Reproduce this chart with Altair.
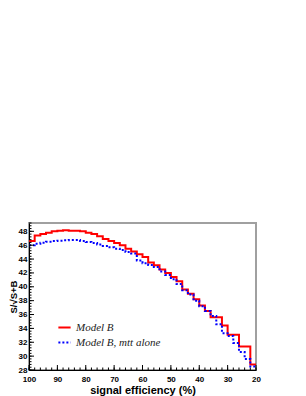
import altair as alt
import pandas as pd

# Bin high edges (x, signal efficiency %) with the value of each bin; last point closes the histogram at x=20
red_x = [100, 98, 96, 94, 92, 90, 88, 86, 84, 82, 80, 78, 76, 74, 72, 70, 68, 66, 64, 62,
         60, 58, 56, 54, 52, 50, 48, 46, 44, 42, 40, 38, 36, 32, 30, 26, 22, 20]
red_y = [46.6, 47.4, 47.6, 47.8, 48.0, 48.1, 48.15, 48.1, 48.1, 48.0, 47.8, 47.6, 47.3, 46.9,
         46.6, 46.3, 46.0, 45.5, 45.1, 44.7, 44.3, 43.5, 43.1, 42.5, 42.0, 41.4, 40.8, 39.6,
         39.0, 38.2, 37.3, 36.5, 35.6, 34.4, 33.1, 31.4, 28.8, 28.8]

blue_x = [100, 98, 96, 94, 92, 90, 88, 86, 84, 82, 80, 78, 76, 74, 72, 70, 68, 66, 64, 62,
          60, 58, 56, 54, 52, 50, 48, 46, 44, 42, 40, 38, 36, 34, 32, 30, 28, 26, 24, 22, 20]
blue_y = [46.0, 46.2, 46.35, 46.5, 46.6, 46.65, 46.7, 46.75, 46.75, 46.6, 46.45, 46.3, 46.1,
          45.9, 45.7, 45.5, 45.3, 45.0, 44.8, 43.8, 43.4, 43.15, 42.85, 42.2, 41.7, 41.1, 40.4,
          39.5, 38.9, 38.0, 37.2, 36.5, 35.8, 34.6, 33.3, 32.9, 31.9, 30.6, 29.6, 28.5, 28.5]

series_names = ["Model B", "Model B, mtt alone"]
series_colors = ["#ff0000", "#0000ff"]

x_major = [100, 90, 80, 70, 60, 50, 40, 30, 20]
x_minor = list(range(20, 101, 2))
y_major = [28, 30, 32, 34, 36, 38, 40, 42, 44, 46, 48]
y_minor = [round(28 + 0.4 * i, 1) for i in range(0, 54)]

W, H = 227, 147

rows = []
for i, (x, y) in enumerate(zip(red_x, red_y)):
    rows.append({"eff": x, "val": y, "series": series_names[0], "o": i})
for i, (x, y) in enumerate(zip(blue_x, blue_y)):
    rows.append({"eff": x, "val": y, "series": series_names[1], "o": i})
df = pd.DataFrame(rows)

xscale = alt.Scale(domain=[100, 20], nice=False, zero=False)
yscale = alt.Scale(domain=[28, 49.2], nice=False, zero=False)

xaxis = alt.Axis(values=x_major, ticks=False, grid=False, domainColor="black",
                 labelPadding=5, labelFontSize=8, labelFontWeight="bold",
                 labelFont="Liberation Sans", labelColor="black",
                 title="signal efficiency (%)", titleFont="Liberation Sans",
                 titleFontSize=11, titleFontWeight="bold", titlePadding=1,
                 titleColor="black", labelFlush=False)
yaxis = alt.Axis(values=y_major, ticks=False, grid=False, domainColor="black",
                 labelPadding=2, labelFontSize=8, labelFontWeight="bold",
                 labelFont="Liberation Sans", labelColor="black",
                 title="S/√S+B", titleFont="Liberation Sans",
                 titleFontSize=9.5, titleFontWeight="bold",
                 titleX=-16, titleY=H / 2, titleAngle=270, titleBaseline="middle",
                 titleAlign="center", titleColor="black", labelFlush=False)

leg = alt.Legend(orient="none", legendX=28, legendY=97, title=None, symbolType="stroke",
                 symbolSize=150, symbolStrokeWidth=2, labelFont="Liberation Serif",
                 labelFontStyle="italic", labelFontSize=11, labelColor="#222222",
                 rowPadding=2, labelOffset=4)

lines = alt.Chart(df).mark_line(interpolate="step-after", strokeWidth=2).encode(
    x=alt.X("eff:Q", scale=xscale, axis=xaxis, title="signal efficiency (%)"),
    y=alt.Y("val:Q", scale=yscale, axis=yaxis, title="S/√S+B"),
    color=alt.Color("series:N", scale=alt.Scale(domain=series_names, range=series_colors), legend=leg),
    strokeDash=alt.StrokeDash("series:N", scale=alt.Scale(domain=series_names, range=[[1, 0], [2, 2]]), legend=leg),
    order="o:Q",
)

def xticks(vals, size):
    return alt.Chart(pd.DataFrame({"eff": vals})).mark_rule(color="black", strokeWidth=1).encode(
        x=alt.X("eff:Q", scale=xscale, axis=xaxis, title="signal efficiency (%)"),
        y=alt.value(H), y2=alt.value(H - size))

def yticks(vals, size):
    return alt.Chart(pd.DataFrame({"val": vals})).mark_rule(color="black", strokeWidth=1).encode(
        y=alt.Y("val:Q", scale=yscale, axis=yaxis, title="S/√S+B"),
        x=alt.value(0), x2=alt.value(size))

chart = alt.layer(
    lines, xticks(x_minor, 2.5), xticks(x_major, 5), yticks(y_minor, 2.5), yticks(y_major, 5)
).properties(
    width=W, height=H,
    autosize=alt.AutoSizeParams(type="none"),
    padding={"left": 21, "top": 215, "right": 40, "bottom": 26},
).configure_view(stroke="#a0a0a0", strokeWidth=2).configure_axis(domainWidth=1)

chart.save("out.html", embed_options={"renderer": "svg", "actions": False})
